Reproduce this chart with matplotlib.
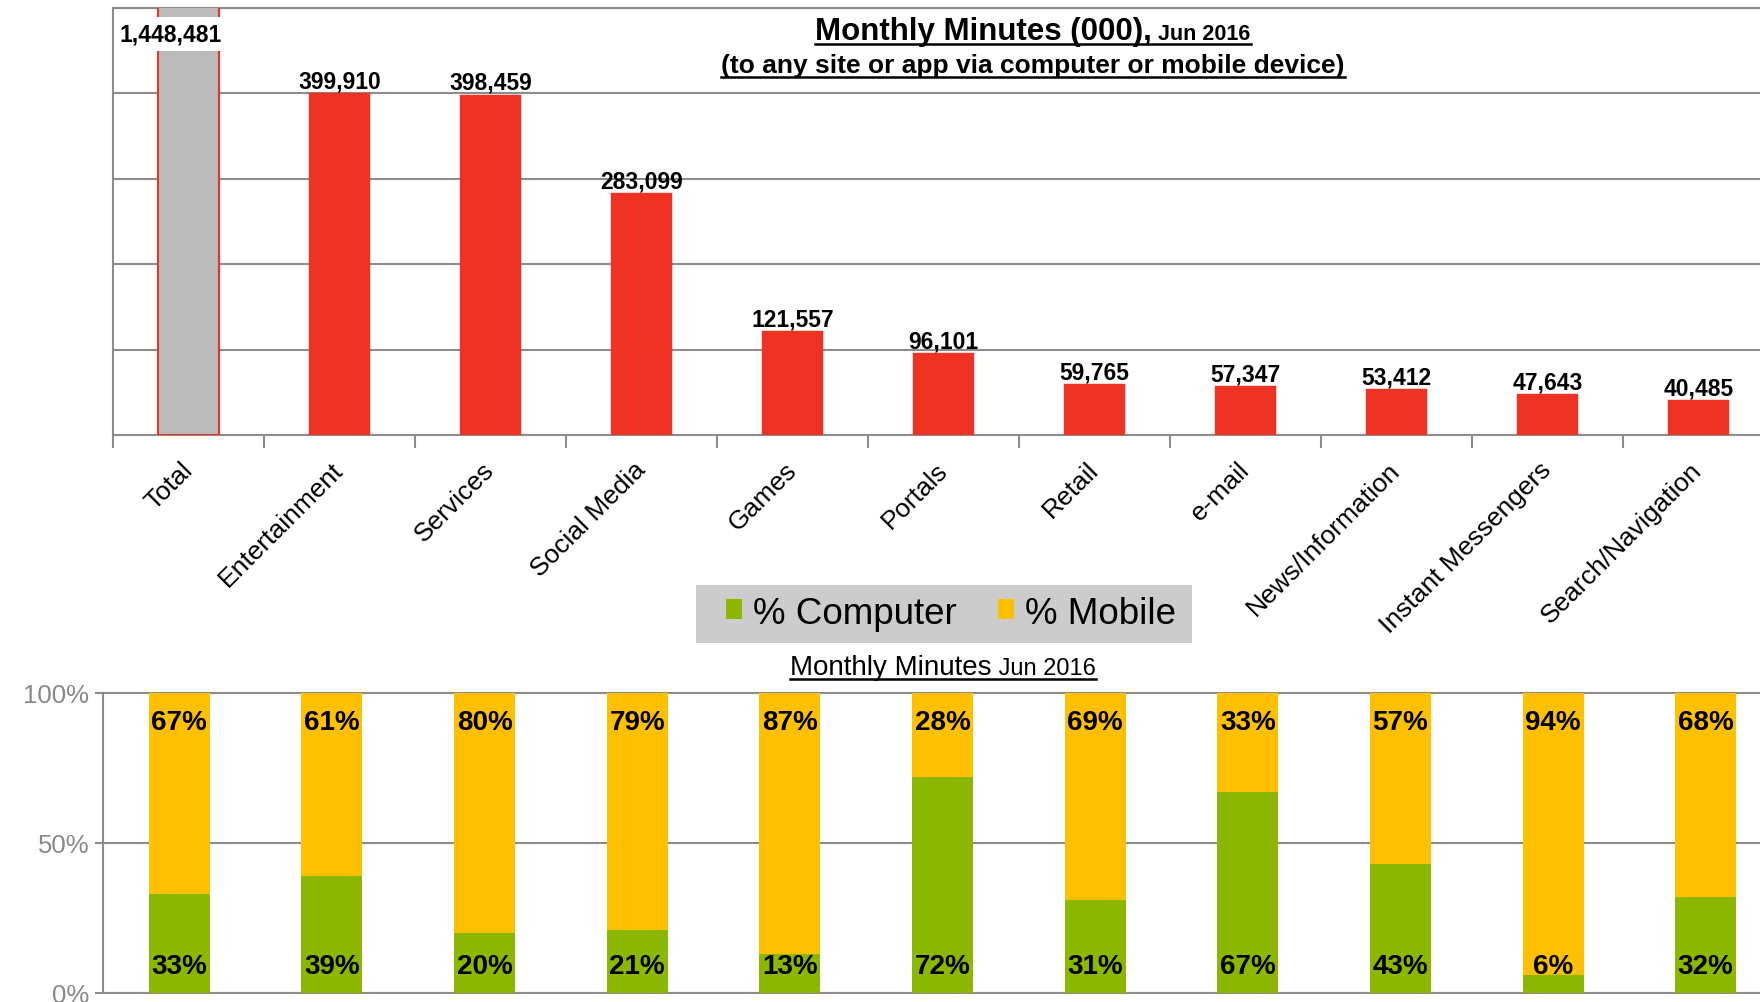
import matplotlib
matplotlib.use("Agg")
import matplotlib.pyplot as plt
from matplotlib.lines import Line2D
from matplotlib.patches import Patch, Rectangle

# categories and values (Monthly minutes, thousands)
categories = ["Total", "Entertainment", "Services", "Social Media", "Games", "Portals",
              "Retail", "e-mail", "News/Information", "Instant Messengers", "Search/Navigation"]
minutes = [1448481, 399910, 398459, 283099, 121557, 96101, 59765, 57347, 53412, 47643, 40485]
pct_computer = [33, 39, 20, 21, 13, 72, 31, 67, 43, 6, 32]
pct_mobile = [67, 61, 80, 79, 87, 28, 69, 33, 57, 94, 68]

RED = "#EE3224"
GREY_BAR = "#BBBBBB"
GREEN = "#8BB700"
YELLOW = "#FFC000"
GRID = "#8C8C8C"

plt.rcParams['font.family'] = ['Liberation Sans', 'DejaVu Sans']

W, H = 1760, 1003
fig = plt.figure(figsize=(W / 100, H / 100), dpi=100)

def px(x0, y0, x1, y1):
    # pixel box (top-left origin) -> figure fraction rect
    return [x0 / W, 1 - y1 / H, (x1 - x0) / W, (y1 - y0) / H]

# ---------------- top chart ----------------
ax = fig.add_axes(px(113, 9, 1774, 436))
x = list(range(len(categories)))
colors = [GREY_BAR] + [RED] * (len(categories) - 1)
ax.bar(x, minutes, width=0.4, color=colors, edgecolor=RED,
       linewidth=[1.5] + [0.3] * (len(categories) - 1), zorder=3)
ax.set_xlim(-0.5, len(categories) - 0.5)
ax.set_ylim(0, 500000)
ax.set_yticks([0, 100000, 200000, 300000, 400000, 500000])
ax.set_yticklabels([])
ax.tick_params(axis='y', length=0)
ax.grid(axis='y', color=GRID, lw=1.5, zorder=0)
for s in ["left", "bottom", "top"]:
    ax.spines[s].set_color(GRID)
    ax.spines[s].set_linewidth(1.5)
ax.spines["right"].set_visible(False)
ax.set_xticks(x)
ax.set_xticklabels(categories, rotation=45, ha='right', va='center', rotation_mode='anchor', fontsize=19)
ax.tick_params(axis='x', which='major', length=0, pad=22)
ax.set_xticks([i - 0.5 for i in range(len(categories) + 1)], minor=True)
ax.tick_params(axis='x', which='minor', length=9, width=1.5, color=GRID)

for i, v in enumerate(minutes):
    if v > 500000:
        # the Total bar runs past the top; its label sits inside on a white patch
        ax.text(i - 0.12, 470000, f"{v:,}", ha='center', va='center', fontsize=16.5, fontweight='bold',
                zorder=5, bbox=dict(facecolor='white', edgecolor='none', pad=4))
    else:
        ax.text(i, v + 1000, f"{v:,}", ha='center', va='bottom', fontsize=16.5, fontweight='bold', zorder=5)

# ---------------- bottom chart ----------------
ax2 = fig.add_axes(px(103, 694, 1782, 994))
ax2.bar(x, pct_computer, width=0.4, color=GREEN, zorder=3)
ax2.bar(x, pct_mobile, bottom=pct_computer, width=0.4, color=YELLOW, zorder=3)
ax2.set_xlim(-0.5, len(categories) - 0.5)
ax2.set_ylim(0, 100)
ax2.set_yticks([0, 50, 100])
ax2.set_yticklabels(["0%", "50%", "100%"], fontsize=18.5, color="#888888")
ax2.tick_params(axis='y', length=6, width=1.5, color=GRID, pad=4)
ax2.set_xticks([])
ax2.grid(axis='y', color=GRID, lw=1.5, zorder=0)
for s in ["left", "bottom", "top"]:
    ax2.spines[s].set_color(GRID)
    ax2.spines[s].set_linewidth(1.5)
ax2.spines["right"].set_visible(False)
for i in x:
    ax2.text(i, 90.3, f"{pct_mobile[i]}%", ha='center', va='center', fontsize=20, fontweight='bold', zorder=5)
    ax2.text(i, 9, f"{pct_computer[i]}%", ha='center', va='center', fontsize=20, fontweight='bold', zorder=5)

# ---------------- legend ----------------
fig.add_artist(Rectangle((696 / W, 1 - 644 / H), (1192 - 696) / W, (644 - 586) / H,
                         transform=fig.transFigure, facecolor="#CCCCCC", edgecolor='none'))
handles = [Patch(facecolor=GREEN, edgecolor='none'), Patch(facecolor=YELLOW, edgecolor='none')]
fig.legend(handles, ["% Computer", "% Mobile"], loc='center', bbox_to_anchor=(951 / W, 1 - 614 / H),
           ncol=2, fontsize=26.5, frameon=False, handlelength=0.45, handleheight=0.45,
           handletextpad=0.3, columnspacing=1.1, borderpad=0.2)

# ---------------- underlined titles ----------------
renderer = fig.canvas.get_renderer()

def underlined(parts, cx, y, weight):
    texts = [fig.text(0, 1 - y / H, s, fontsize=sz, fontweight=weight, ha='left', va='baseline')
             for s, sz in parts]
    widths = [t.get_window_extent(renderer).width for t in texts]
    total = sum(widths)
    left = cx - total / 2
    for t, w in zip(texts, widths):
        t.set_x(left / W)
        left += w
    uy = 1 - (y + 5) / H
    fig.add_artist(Line2D([(cx - total / 2) / W, (cx + total / 2) / W], [uy, uy],
                          color='black', lw=1.8, transform=fig.transFigure))

underlined([("Monthly Minutes (000),", 22.5), (" Jun 2016", 15.5)], 1033, 40, 'bold')
underlined([("(to any site or app via computer or mobile device)", 19)], 1033, 73, 'bold')
underlined([("Monthly Minutes", 20), (" Jun 2016", 17)], 943, 675, 'normal')

fig.savefig("out.png", dpi=100)
